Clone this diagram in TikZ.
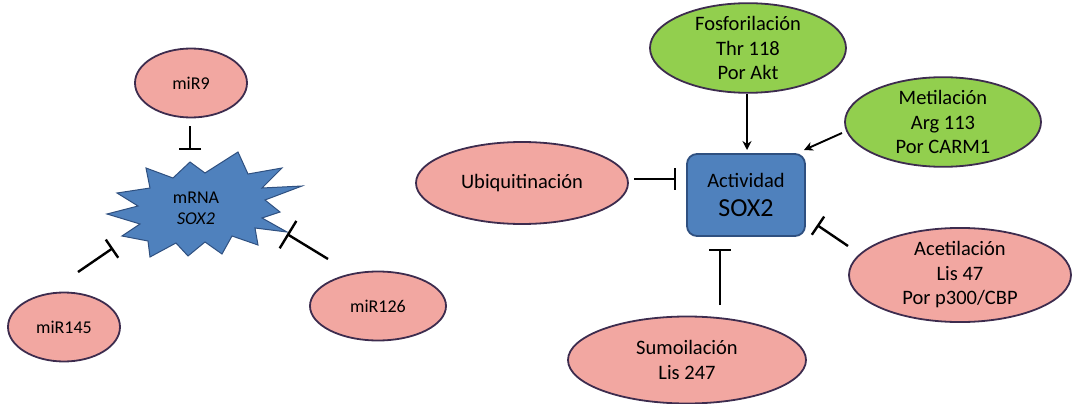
\documentclass[tikz,border=0pt]{standalone}
\usepackage{fontspec}
\setmainfont{Carlito}
\usetikzlibrary{arrows.meta,shapes.geometric}
\definecolor{pinkfill}{HTML}{F2A7A1}
\definecolor{greenfill}{HTML}{92CF4E}
\definecolor{bluefill}{HTML}{4F81BD}
\definecolor{blueedge}{HTML}{2F5080}
\definecolor{ovaledge}{HTML}{3D2C4E}
\tikzset{
  oval/.style={ellipse, draw=ovaledge, line width=1.8pt, inner sep=0pt, align=center,
    font=\fontsize{20.5}{24.5}\selectfont},
  pinkoval/.style={oval, fill=pinkfill},
  greenoval/.style={oval, fill=greenfill},
  mioval/.style={pinkoval, font=\fontsize{18}{22}\selectfont},
  inh/.style={line width=2.4pt, -{Bar[width=22pt,line width=2.4pt]}},
  act/.style={line width=1.9pt, -{Stealth[length=9pt,width=9pt]}},
}
\begin{document}
\begin{tikzpicture}[x=1pt,y=-1pt]
\useasboundingbox (0,0) rectangle (1072,404);
% left part
\node[mioval, minimum width=112pt, minimum height=69pt] (mir9) at (191,83) {miR9};
\node[mioval, minimum width=112pt, minimum height=69pt] (mir145) at (64,327) {miR145};
\node[mioval, minimum width=136pt, minimum height=69pt] (mir126) at (378,306) {miR126};
\fill[bluefill, draw=blueedge, line width=1pt, line join=miter]
  (238,152) -- (248,174) -- (282,168) -- (262,188) -- (302,186) -- (265,200)
  -- (280,212) -- (262,218) -- (287,232) -- (255,228) -- (258,245) -- (232,236)
  -- (222,254) -- (205,242) -- (188,256) -- (176,243) -- (150,257) -- (148,241)
  -- (122,236) -- (140,224) -- (107,214) -- (138,206) -- (117,193) -- (150,188)
  -- (146,168) -- (173,178) -- (190,162) -- (205,173) -- cycle;
\node[align=center, font=\fontsize{18}{21}\selectfont] (mrna) at (196,208) {mRNA\\\textit{SOX2}};
\coordinate (a9) at (190,126);  \coordinate (b9) at (190,150);
\coordinate (a145) at (78,272); \coordinate (b145) at (113,248);
\coordinate (a126) at (328,259); \coordinate (b126) at (287,234);
\draw[inh] (a9) -- (b9);
\draw[inh] (a145) -- (b145);
\draw[line width=2.4pt, -{Bar[width=32pt,line width=2.4pt]}] (a126) -- (b126);
% right part
\node[draw=blueedge, fill=bluefill, line width=1.8pt, rounded corners=10pt,
  minimum width=118pt, minimum height=82pt, align=center,
  font=\fontsize{20.5}{24}\selectfont] (sox) at (746,195)
  {Actividad\\[5pt]{\fontsize{26}{24}\selectfont SOX2}};
\node[greenoval, minimum width=196pt, minimum height=86pt] (fos) at (748,48)
  {Fosforilación\\Thr 118\\Por Akt};
\node[greenoval, minimum width=196pt, minimum height=86pt] (met) at (943,122)
  {Metilación\\Arg 113\\Por CARM1};
\node[pinkoval, minimum width=212pt, minimum height=82pt] (ubi) at (522,183)
  {Ubiquitinación};
\node[pinkoval, minimum width=222pt, minimum height=86pt] (ace) at (960,275)
  {Acetilación\\Lis 47\\Por p300/CBP};
\node[pinkoval, minimum width=238pt, minimum height=87pt] (sum) at (687,360)
  {Sumoilación\\Lis 247};
\coordinate (afos) at (747,94);  \coordinate (bfos) at (747,150);
\coordinate (amet) at (842,133); \coordinate (bmet) at (804,150);
\coordinate (aubi) at (634,179); \coordinate (bubi) at (676,179);
\coordinate (aace) at (848,246); \coordinate (bace) at (817,225);
\coordinate (asum) at (720,305); \coordinate (bsum) at (720,249);
\draw[act] (afos) -- (bfos);
\draw[act] (amet) -- (bmet);
\draw[inh] (aubi) -- (bubi);
\draw[inh] (aace) -- (bace);
\draw[inh] (asum) -- (bsum);
\end{tikzpicture}
\end{document}
